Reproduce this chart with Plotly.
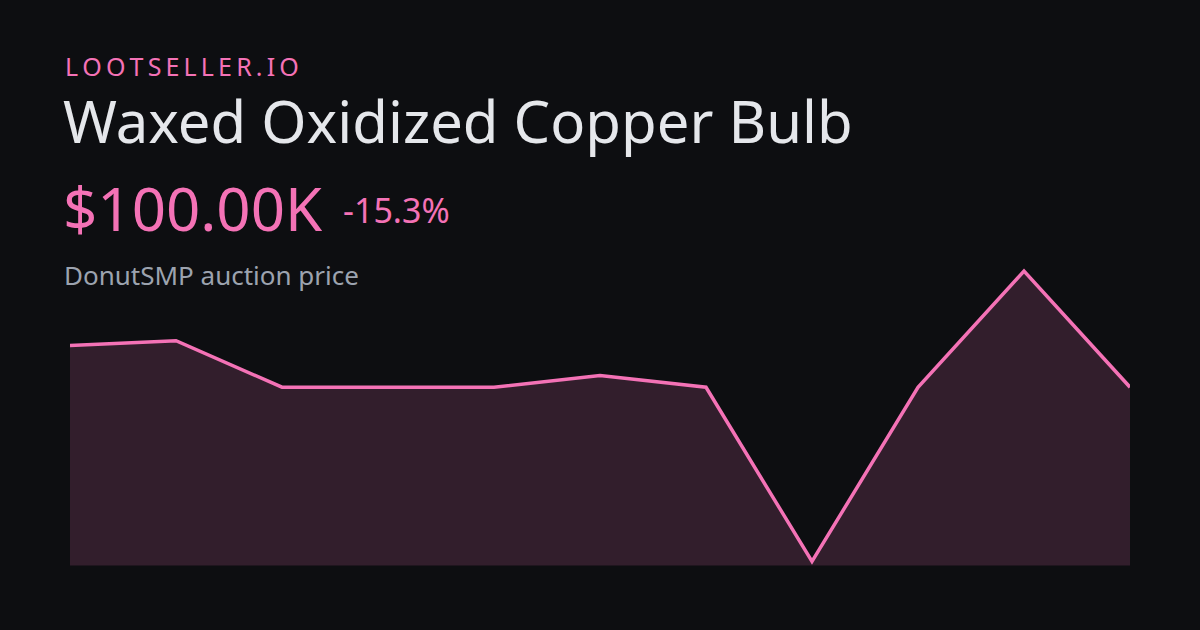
import plotly.graph_objects as go

# Data
points = list(range(11))
prices_k = [118, 120, 100, 100, 100, 105, 100, 25, 100, 150, 100]

brand = "LOOTSELLER.IO"
title = "Waxed Oxidized Copper Bulb"
price_label = "$100.00K"
change_label = "-15.3%"
subtitle = "DonutSMP auction price"

BG = "#0d0e11"
PINK = "#f472b6"
W, H = 1200, 630

fig = go.Figure()
fig.add_trace(go.Scatter(
    x=points, y=prices_k, mode="lines",
    line=dict(color=PINK, width=3.5),
    fill="tozeroy", fillcolor="rgba(244,114,182,0.165)",
    hoverinfo="skip", showlegend=False,
))

def px_x(x):
    return x / W

def px_y(y):
    return 1 - y / H

fig.update_layout(
    width=W, height=H,
    paper_bgcolor=BG, plot_bgcolor=BG,
    margin=dict(l=0, r=0, t=0, b=0),
    font=dict(family="Noto Sans"),
    xaxis=dict(domain=[px_x(70), px_x(1130)], range=[0, 10],
               visible=False, showgrid=False, zeroline=False, fixedrange=True),
    yaxis=dict(domain=[px_y(565.5), px_y(250)], range=[23.28, 159.05],
               visible=False, showgrid=False, zeroline=False, fixedrange=True),
    showlegend=False,
)

spaced_brand = "\u2009".join(brand)

anns = [
    dict(text=spaced_brand, x=px_x(64), y=px_y(66.5), size=25, color=PINK),
    dict(text=title, x=px_x(62), y=px_y(121), size=58, color="#e5e7eb"),
    dict(text=price_label, x=px_x(62), y=px_y(208), size=60, color=PINK),
    dict(text=change_label, x=px_x(342), y=px_y(210), size=34, color=PINK),
    dict(text=subtitle, x=px_x(63), y=px_y(275), size=26, color="#9ca3af"),
]
for a in anns:
    fig.add_annotation(
        text=a["text"], x=a["x"], y=a["y"], xref="paper", yref="paper",
        xanchor="left", yanchor="middle", showarrow=False, borderpad=0,
        font=dict(size=a["size"], color=a["color"], family="Noto Sans"),
    )

post = ("document.body.style.margin='0';document.body.style.padding='0';"
        "document.body.style.background='%s';" % BG)
fig.write_html("out.html", config={"displayModeBar": False}, post_script=post)
